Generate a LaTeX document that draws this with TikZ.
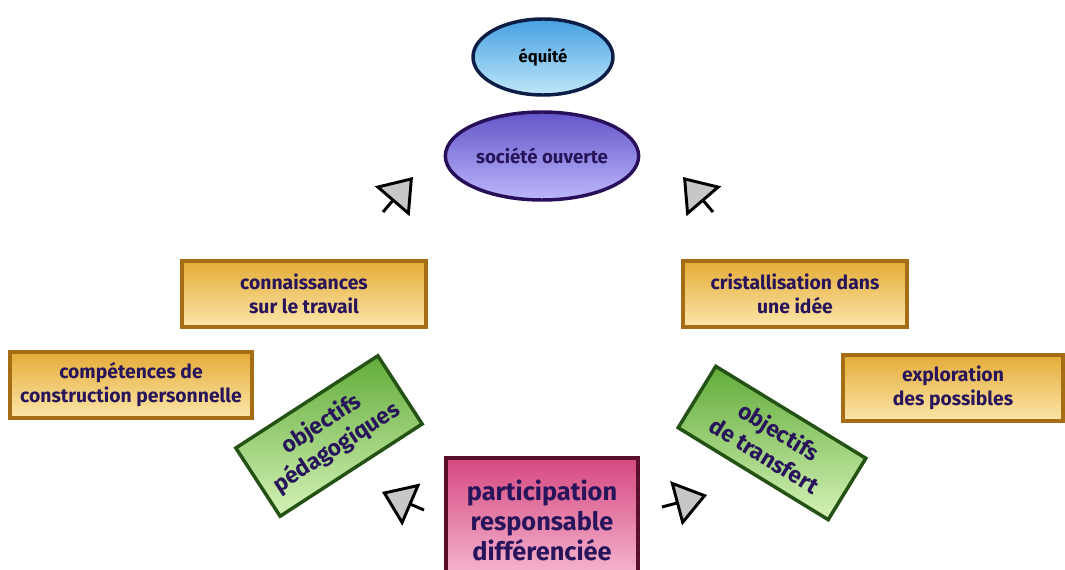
\documentclass[tikz,border=0pt]{standalone}
\usepackage{fontspec}
\setmainfont{Fira Sans}
\usetikzlibrary{arrows.meta,positioning,shapes.geometric}

\definecolor{ink}{RGB}{40,20,90}
\definecolor{blueTop}{RGB}{70,160,225}
\definecolor{blueBot}{RGB}{192,232,250}
\definecolor{blueEdge}{RGB}{12,30,70}
\definecolor{violetTop}{RGB}{100,85,200}
\definecolor{violetBot}{RGB}{188,184,252}
\definecolor{violetEdge}{RGB}{40,15,90}
\definecolor{goldTop}{RGB}{228,172,56}
\definecolor{goldBot}{RGB}{252,230,170}
\definecolor{goldEdge}{RGB}{165,110,20}
\definecolor{greenTop}{RGB}{98,172,58}
\definecolor{greenBot}{RGB}{212,242,182}
\definecolor{greenEdge}{RGB}{35,82,20}
\definecolor{pinkTop}{RGB}{214,72,128}
\definecolor{pinkBot}{RGB}{246,188,212}
\definecolor{pinkEdge}{RGB}{90,15,45}

\begin{document}
\begin{tikzpicture}[x=0.75pt, y=-0.75pt,
  font=\bfseries,
  oval/.style={ellipse, line width=2.6pt, inner sep=0pt, text=ink},
  goal/.style={oval, draw=blueEdge, top color=blueTop, bottom color=blueBot,
               text=black, font=\bfseries\fontsize{12.5}{15}\selectfont},
  society/.style={oval, draw=violetEdge, top color=violetTop, bottom color=violetBot,
                  font=\bfseries\fontsize{14}{17}\selectfont},
  tile/.style={rectangle, draw=goldEdge, line width=3pt, top color=goldTop,
               bottom color=goldBot, text=ink, align=center, inner sep=0pt,
               font=\bfseries\fontsize{14.5}{18}\selectfont},
  aim/.style={rectangle, draw=greenEdge, line width=2.6pt, top color=greenTop,
              bottom color=greenBot, text=ink, align=center, inner sep=0pt,
              font=\bfseries\fontsize{17}{21}\selectfont},
  core/.style={rectangle, draw=pinkEdge, line width=2.6pt, top color=pinkTop,
               bottom color=pinkBot, text=ink, align=center, inner sep=0pt,
               font=\bfseries\fontsize{19}{22.5}\selectfont},
  pointer/.style={line width=2.2pt, draw=black,
                  -{Triangle[length=24pt, width=34pt, fill=black!22, line join=miter]}},
]
\useasboundingbox (0,0) rectangle (1065,570);

% ============ TOP: values ============
\node[goal, minimum width=105pt, minimum height=57pt] (equite) at (543,57) {équité};
\node[society, minimum width=145pt, minimum height=66pt] (societe) at (542,156) {société ouverte};

% ============ MIDDLE: knowledge tiles ============
\node[tile, minimum width=183pt, minimum height=49pt] (connaissances) at (304,294)
  {connaissances\\sur le travail};
\node[tile, minimum width=168pt, minimum height=49pt] (cristal) at (795,294)
  {cristallisation dans\\une idée};
\node[tile, minimum width=181pt, minimum height=49pt] (competences) at (131,385)
  {compétences de\\construction personnelle};
\node[tile, minimum width=165pt, minimum height=50pt] (exploration) at (953,388)
  {exploration\\des possibles};

% ============ OBJECTIVES (tilted) ============
\node[aim, rotate=33, minimum width=127pt, minimum height=61pt] (pedago) at (329,436)
  {objectifs\\pédagogiques};
\node[aim, rotate=-31.5, minimum width=132pt, minimum height=54pt] (transfert) at (772,443)
  {objectifs\\de transfert};

% ============ BOTTOM: participation ============
\node[core, minimum width=144pt, minimum height=93pt] (participation) at (542,520)
  {participation\\responsable\\différenciée};

% ============ POINTERS ============
\coordinate (ul tail) at (383,212);  \coordinate (ul tip) at (413,177);
\coordinate (ur tail) at (713,212);  \coordinate (ur tip) at (683,177);
\coordinate (ll tail) at (424,510);  \coordinate (ll tip) at (382,492);
\coordinate (lr tail) at (662,507);  \coordinate (lr tip) at (707,495);
\foreach \p in {ul,ur,ll,lr}
  \draw[pointer] (\p\space tail) -- (\p\space tip);

\end{tikzpicture}
\end{document}
